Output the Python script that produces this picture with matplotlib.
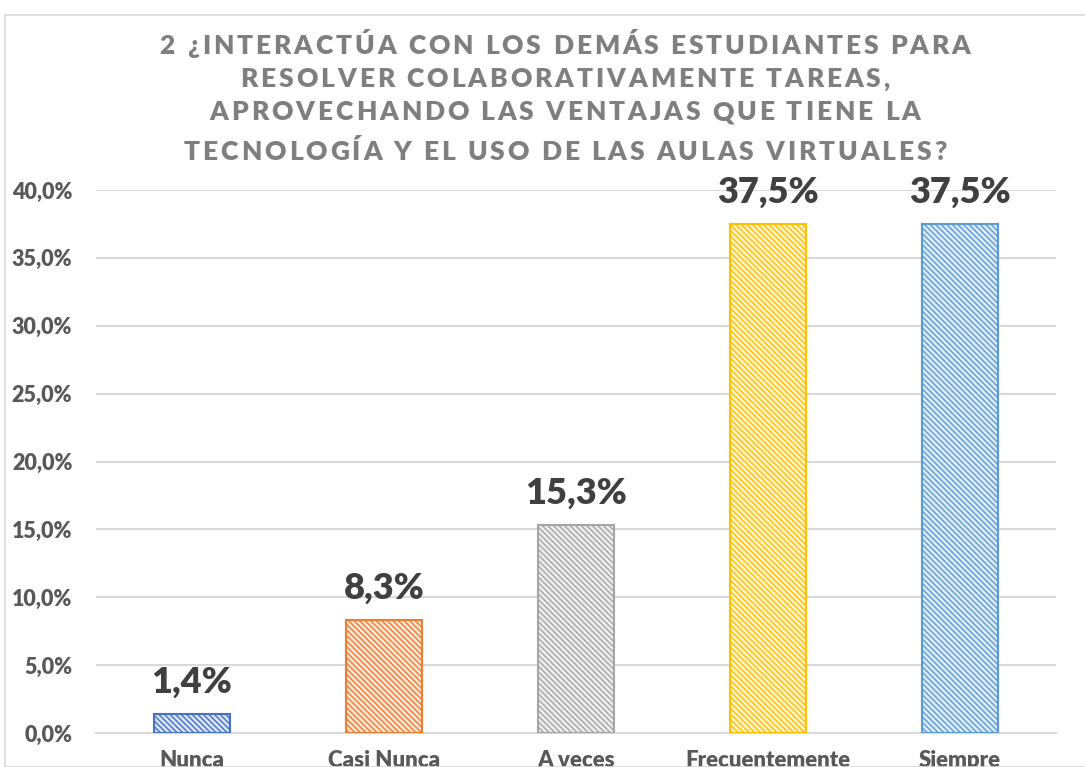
import matplotlib
matplotlib.use("Agg")
import matplotlib.pyplot as plt
from matplotlib.patches import Rectangle
from matplotlib.ticker import FuncFormatter, MultipleLocator
from matplotlib.font_manager import FontProperties

categories = ["Nunca", "Casi Nunca", "A veces", "Frecuentemente", "Siempre"]
values = [1.4, 8.3, 15.3, 37.5, 37.5]
labels = ["1,4%", "8,3%", "15,3%", "37,5%", "37,5%"]
edge_colors = ["#4472c4", "#ed7d31", "#a5a5a5", "#ffc000", "#5b9bd5"]
fill_colors = ["#dae3f3", "#fbe5d6", "#ededed", "#fff2cc", "#deebf7"]
title_lines = [
    "2 ¿INTERACTÚA CON LOS DEMÁS ESTUDIANTES PARA",
    "RESOLVER COLABORATIVAMENTE TAREAS,",
    "APROVECHANDO LAS VENTAJAS QUE TIENE LA",
    "TECNOLOGÍA Y EL USO DE LAS AULAS VIRTUALES?",
]

W, H = 1085, 767
plt.rcParams['font.family'] = ['Lato', 'DejaVu Sans']
plt.rcParams['hatch.linewidth'] = 1.0

fig = plt.figure(figsize=(W / 100, H / 100), dpi=100)

# chart frame
fig.patches.append(Rectangle((5 / W, 0), 1.2, (H - 15) / H, transform=fig.transFigure,
                             fill=False, edgecolor="#d9d9d9", lw=1.2, clip_on=False))

ax = fig.add_axes([96 / W, 1 - 733 / H, 960 / W, (733 - 190) / H])
x = list(range(len(categories)))
for i, (v, ec, fc) in enumerate(zip(values, edge_colors, fill_colors)):
    ax.bar(i, v, width=0.4, color=fc, edgecolor=ec, hatch="\\" * 6, linewidth=1.5, zorder=3)
    ax.annotate(labels[i], (i, v), xytext=(0, 11), textcoords="offset points",
                ha="center", va="bottom", fontsize=26, fontweight="heavy", color="#404040")

ax.set_xlim(-0.5, 4.5)
ax.set_ylim(0, 40)
ax.yaxis.set_major_locator(MultipleLocator(5))
ax.yaxis.set_major_formatter(FuncFormatter(lambda v, p: f"{v:.1f}%".replace(".", ",")))
ax.grid(axis="y", color="#d9d9d9", lw=1.5, zorder=0)
ax.set_axisbelow(True)
for s in ["top", "right", "left"]:
    ax.spines[s].set_visible(False)
ax.spines["bottom"].set_color("#d9d9d9")
ax.spines["bottom"].set_linewidth(1.5)
ax.set_xticks(x)
ax.set_xticklabels(categories)
ax.tick_params(axis="x", length=0, labelcolor="#595959", labelsize=16, pad=12)
ax.tick_params(axis="y", length=0, labelcolor="#595959", labelsize=15.5, pad=17)
for t in ax.get_xticklabels() + ax.get_yticklabels():
    t.set_fontweight("heavy")

# Title with letter spacing (tracking), drawn char by char
renderer = fig.canvas.get_renderer()
tprop = FontProperties(family=['Lato', 'DejaVu Sans'], weight='heavy', size=19)

def wpx(s):
    w1, _, _ = renderer.get_text_width_height_descent(s + "I", tprop, ismath=False)
    w0, _, _ = renderer.get_text_width_height_descent("I", tprop, ismath=False)
    return w1 - w0

target_first = 811.0
nat = wpx(title_lines[0][:-1]) + wpx(title_lines[0][-1])
track = (target_first - nat) / (len(title_lines[0]) - 1)

title_y = [44, 77, 110, 150]
center_x = 565
for line, yy in zip(title_lines, title_y):
    total = wpx(line[:-1]) + wpx(line[-1]) + track * (len(line) - 1)
    x0 = center_x - total / 2
    for i, ch in enumerate(line):
        if ch == " ":
            continue
        xp = x0 + wpx(line[:i]) + track * i
        fig.text(xp / W, 1 - yy / H, ch, ha="left", va="center_baseline",
                 fontproperties=tprop, color="#7f7f7f")

fig.savefig("out.png", dpi=100)
